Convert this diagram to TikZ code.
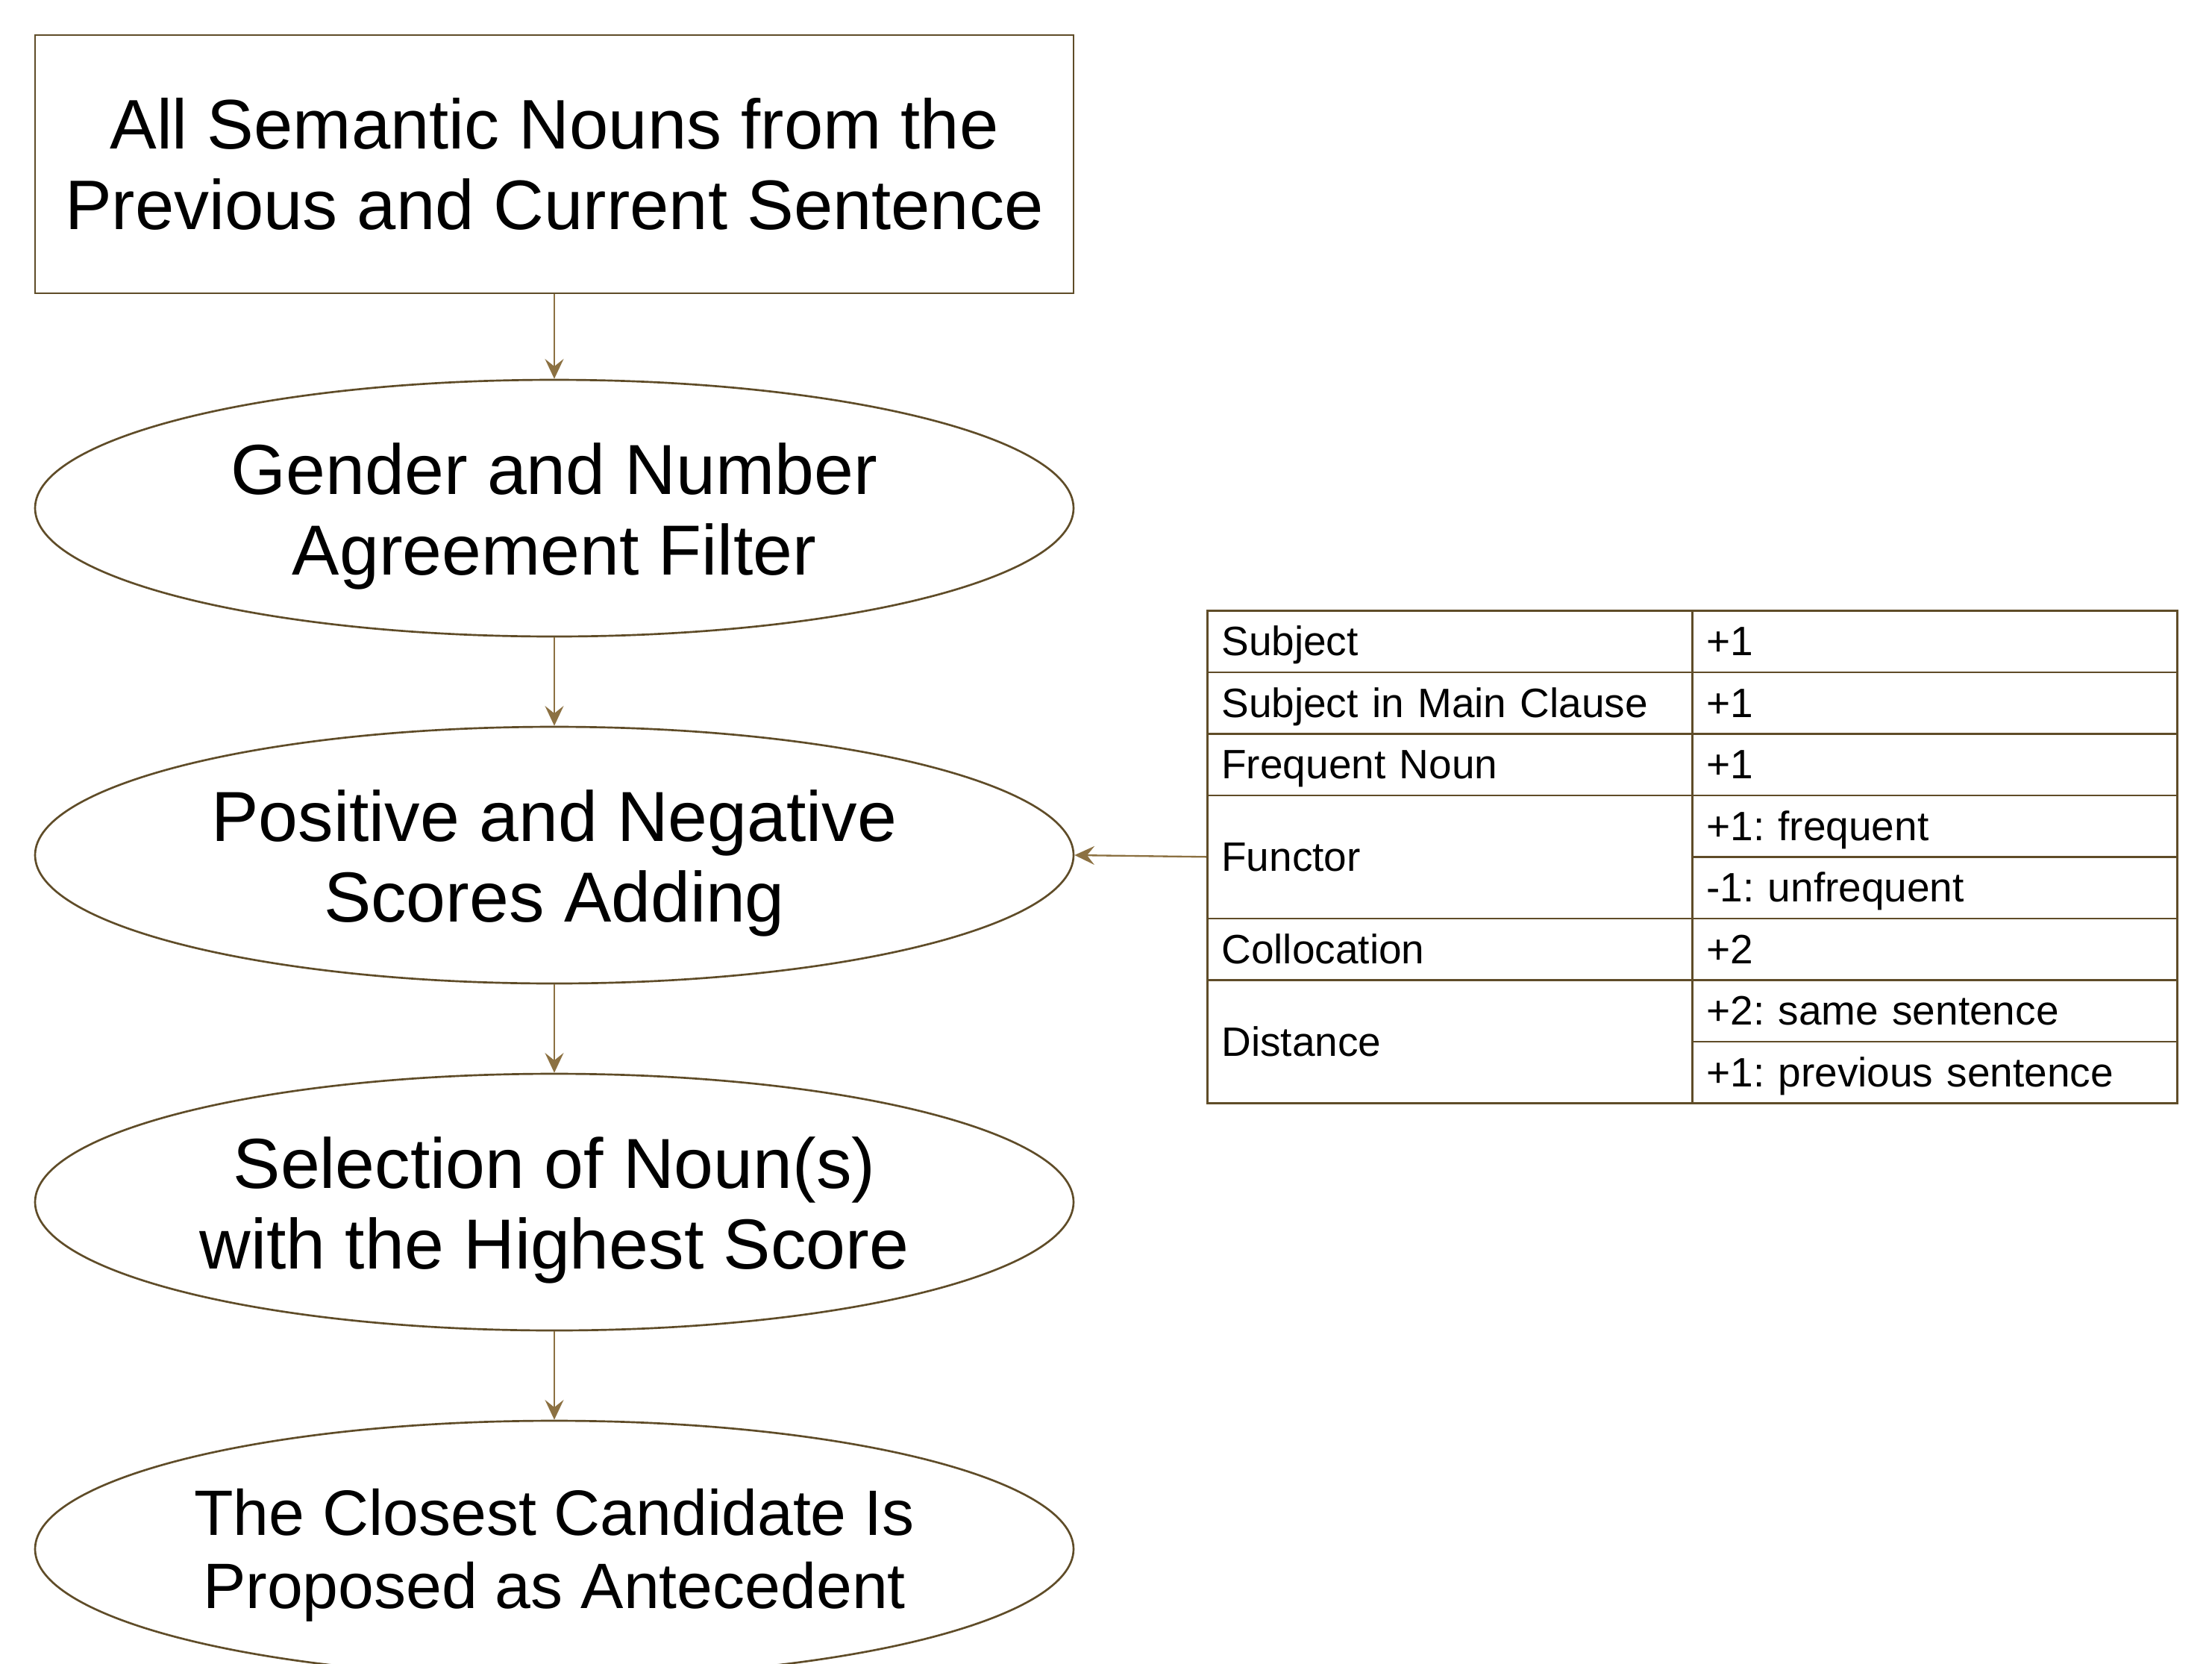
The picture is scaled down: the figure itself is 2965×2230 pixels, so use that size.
\documentclass[tikz,border=0pt]{standalone}
\usepackage{fontspec}
\setmainfont{Liberation Sans}
\usetikzlibrary{shapes.geometric,arrows.meta}
\frenchspacing
\definecolor{bordercol}{HTML}{5F4C28}
\definecolor{arrowcol}{HTML}{8C7142}
\newcommand{\boxfont}{\fontsize{28.2pt}{32.4pt}\selectfont}
\newcommand{\bigfont}{\fontsize{28.5pt}{32.4pt}\selectfont}
\newcommand{\lastfont}{\fontsize{25.8pt}{29.5pt}\selectfont}
\newcommand{\tabfont}{\fontsize{16.5pt}{20pt}\selectfont}
\tikzset{
  flowbox/.style={draw=bordercol, line width=0.8pt, rectangle, minimum width=417.6pt, minimum height=103.8pt, inner sep=0pt, align=center, font=\boxfont},
  flowell/.style={draw=bordercol, line width=0.8pt, ellipse, minimum width=417.6pt, minimum height=103.2pt, inner sep=0pt},
  elltext/.style={align=center, font=\bigfont, inner sep=0pt},
  cell/.style={draw=bordercol, line width=0.8pt, rectangle, anchor=north west, minimum height=24.75pt, text width=183.6pt, text height=11.5pt, text depth=0pt, inner xsep=5.7pt, inner ysep=0pt, align=left, font=\tabfont},
  cellbig/.style={cell, minimum height=49.5pt},
  flowarrow/.style={draw=arrowcol, line width=0.7pt, -{Stealth[length=8pt, width=7.5pt, inset=3pt]}}
}
\begin{document}
\begin{tikzpicture}[x=0.3pt, y=-0.3pt]
\useasboundingbox (0,0) rectangle (2965,2230);
\node[flowbox] (box) at (743,220) {All Semantic Nouns from the\\Previous and Current Sentence};
\node[flowell] (e1) at (743,681) {};
\node[flowell] (e2) at (743,1146) {};
\node[flowell] (e3) at (743,1611) {};
\node[flowell] (e4) at (743,2076) {};
\node[elltext] (t1) at ([yshift=-3.2pt]e1.center) {Gender and Number\\Agreement Filter};
\node[elltext] (t2) at ([yshift=-3.4pt]e2.center) {Positive and Negative\\Scores Adding};
\node[elltext] (t3) at ([yshift=-3.3pt]e3.center) {Selection of Noun(s)\\with the Highest Score};
\node[elltext, font=\lastfont] (t4) at ([yshift=-2.5pt]e4.center) {The Closest Candidate Is\\Proposed as Antecedent};
% table
\node[cell] (c11) at (1617,817) {Subject};
\node[cell] (c12) at (2267,817) {+1};
\node[cell] (c21) at (1617,899.5) {Subject in Main Clause};
\node[cell] (c22) at (2267,899.5) {+1};
\node[cell] (c31) at (1617,982) {Frequent Noun};
\node[cell] (c32) at (2267,982) {+1};
\node[cellbig] (c41) at (1617,1064.5) {Functor};
\node[cell] (c42) at (2267,1064.5) {+1: frequent};
\node[cell] (c52) at (2267,1147) {-1: unfrequent};
\node[cell] (c61) at (1617,1229.5) {Collocation};
\node[cell] (c62) at (2267,1229.5) {+2};
\node[cellbig] (c71) at (1617,1312) {Distance};
\node[cell] (c72) at (2267,1312) {+2: same sentence};
\node[cell] (c82) at (2267,1394.5) {+1: previous sentence};
% connectors
\draw[flowarrow] (box.south) -- (e1.north);
\draw[flowarrow] (e1.south) -- (e2.north);
\draw[flowarrow] (e2.south) -- (e3.north);
\draw[flowarrow] (e3.south) -- (e4.north);
\draw[flowarrow] (c41.west) -- (e2.east);
\end{tikzpicture}
\end{document}
